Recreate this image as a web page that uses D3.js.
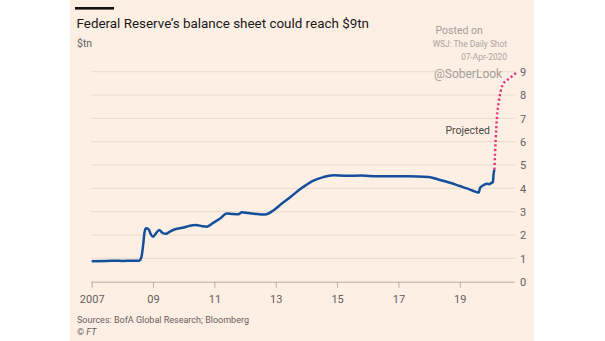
<!DOCTYPE html>
<html>
<head>
<meta charset="utf-8">
<script src="https://cdn.jsdelivr.net/npm/d3@7/dist/d3.min.js"></script>
<style>
  html, body { margin: 0; padding: 0; background: #ffffff; }
  svg { display: block; }
  text { font-family: Roboto, "Noto Sans", sans-serif; }
</style>
</head>
<body>
<svg id="chart" width="605" height="341"></svg>
<script>
// Fed balance sheet, $tn (decimal year -> value)
const histYears = [2007.0, 2007.5, 2007.8, 2008.0, 2008.3, 2008.55, 2008.62, 2008.68, 2008.72, 2008.77,
  2008.85, 2008.92, 2009.0, 2009.1, 2009.2, 2009.3, 2009.42, 2009.55, 2009.72, 2010.0,
  2010.2, 2010.4, 2010.6, 2010.75, 2010.97, 2011.2, 2011.4, 2011.6, 2011.78, 2011.9,
  2012.1, 2012.4, 2012.65, 2012.92, 2013.2, 2013.5, 2013.8, 2014.0, 2014.23, 2014.55,
  2014.88, 2015.3, 2015.8, 2016.3, 2016.8, 2017.3, 2017.98, 2018.3, 2018.68, 2019.0,
  2019.23, 2019.55, 2019.62, 2019.66, 2019.75, 2019.88, 2019.95, 2020.04, 2020.08, 2020.1, 2020.13];
const histValues = [0.88, 0.89, 0.90, 0.89, 0.90, 0.90, 1.05, 1.6, 2.1, 2.29,
  2.26, 2.05, 1.93, 2.08, 2.22, 2.10, 2.05, 2.15, 2.25, 2.32,
  2.40, 2.43, 2.38, 2.36, 2.53, 2.72, 2.92, 2.90, 2.89, 2.98,
  2.94, 2.90, 2.88, 3.05, 3.35, 3.65, 3.97, 4.15, 4.33, 4.48,
  4.56, 4.54, 4.55, 4.52, 4.52, 4.52, 4.49, 4.38, 4.24, 4.10,
  4.00, 3.84, 3.82, 4.02, 4.12, 4.20, 4.18, 4.24, 4.26, 4.60, 4.80];

// Projected path
const projYears = [2020.13, 2020.15, 2020.17, 2020.21, 2020.27, 2020.34, 2020.42, 2020.65, 2020.88];
const projValues = [4.80, 5.5, 6.1, 7.0, 7.7, 8.2, 8.48, 8.74, 9.0];

const xTickYears = [2007, 2009, 2011, 2013, 2015, 2017, 2019];
const xTickLabels = ["2007", "09", "11", "13", "15", "17", "19"];
const yTicks = [0, 1, 2, 3, 4, 5, 6, 7, 8, 9];

const svg = d3.select("#chart");

// FT-style panel
svg.append("rect").attr("x", 70).attr("y", 0).attr("width", 464).attr("height", 341)
  .attr("fill", "#fdefe4");
svg.append("rect").attr("x", 75).attr("y", 7).attr("width", 39).attr("height", 2.6)
  .attr("fill", "#111");

const title = svg.append("text").attr("x", 76.5).attr("y", 27.5)
  .attr("font-size", 16).attr("fill", "#1a1817")
  .text("Federal Reserve\u2019s balance sheet could reach $9tn");
// fit title to its measured width
const tw = title.node().getComputedTextLength();
title.attr("font-size", 16 * 293 / tw);

svg.append("text").attr("x", 77).attr("y", 47).attr("font-size", 10.5)
  .attr("fill", "#66605c").text("$tn");

const x = d3.scaleLinear().domain([2007, 2020.8]).range([91.7, 515]);
const y = d3.scaleLinear().domain([0, 9]).range([281.7, 71.7]);

// gridlines
svg.append("g").selectAll("line").data(yTicks.filter(d => d > 0)).join("line")
  .attr("x1", 91).attr("x2", 515)
  .attr("y1", d => y(d)).attr("y2", d => y(d))
  .attr("stroke", "#e8dbcf").attr("stroke-width", 1);

// right y axis
const yAxis = d3.axisRight(y).tickValues(yTicks).tickSize(0).tickPadding(0);
const gy = svg.append("g").attr("transform", "translate(520,0)").call(yAxis);
gy.select(".domain").remove();
gy.selectAll("text").attr("font-size", 11).attr("fill", "#66605c")
  .attr("font-family", "Roboto, sans-serif").attr("dy", "0.35em");

// bottom x axis
const xAxis = d3.axisBottom(x).tickValues(xTickYears)
  .tickFormat((d, i) => xTickLabels[i]).tickSize(6).tickPadding(8).tickSizeOuter(0);
const gx = svg.append("g").attr("transform", `translate(0,${y(0)})`).call(xAxis);
gx.select(".domain").attr("d", `M91,0.5H515`).attr("stroke", "#b9aea5");
gx.selectAll(".tick line").attr("stroke", "#b9aea5");
gx.selectAll("text").attr("font-size", 11).attr("fill", "#66605c")
  .attr("font-family", "Roboto, sans-serif");

const line = d3.line().x(d => x(d[0])).y(d => y(d[1])).curve(d3.curveMonotoneX);

svg.append("path")
  .datum(projYears.map((d, i) => [d, projValues[i]]))
  .attr("d", line)
  .attr("fill", "none").attr("stroke", "#e8337c").attr("stroke-width", 2.4)
  .attr("stroke-dasharray", "2.2,2.4");

svg.append("path")
  .datum(histYears.map((d, i) => [d, histValues[i]]))
  .attr("d", line)
  .attr("fill", "none").attr("stroke", "#134f9b").attr("stroke-width", 2.5)
  .attr("stroke-linejoin", "round");

svg.append("text").attr("x", 490).attr("y", 134).attr("text-anchor", "end")
  .attr("font-size", 10.5).attr("fill", "#4d4845").text("Projected");

// watermark
svg.append("text").attr("x", 435.5).attr("y", 34).attr("font-size", 10.5)
  .attr("fill", "#a39d99").text("Posted on");
svg.append("text").attr("x", 507).attr("y", 47).attr("text-anchor", "end").attr("font-size", 8.4)
  .attr("font-family", "Liberation Sans, Arial, sans-serif")
  .attr("fill", "#aaa4a0").text("WSJ: The Daily Shot");
svg.append("text").attr("x", 507).attr("y", 60).attr("text-anchor", "end").attr("font-size", 8.4)
  .attr("font-family", "Liberation Sans, Arial, sans-serif")
  .attr("fill", "#aaa4a0").text("07-Apr-2020");
svg.append("text").attr("x", 434).attr("y", 78).attr("font-size", 12)
  .attr("fill", "#a39d99").text("@SoberLook");

// footer
svg.append("text").attr("x", 77).attr("y", 322.5).attr("font-size", 9)
  .attr("fill", "#66605c").text("Sources: BofA Global Research; Bloomberg");
const ft = svg.append("text").attr("x", 77).attr("y", 334.5).attr("font-size", 9).attr("fill", "#66605c");
ft.append("tspan").text("\u00a9 ");
ft.append("tspan").attr("font-style", "italic").text("FT");
</script>
</body>
</html>
